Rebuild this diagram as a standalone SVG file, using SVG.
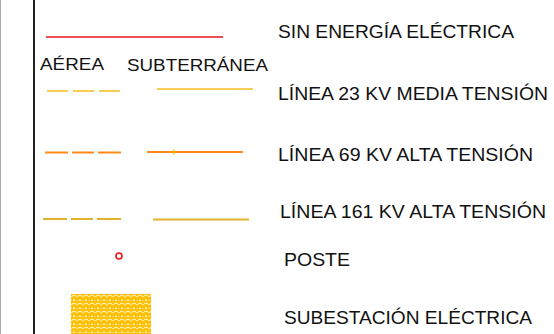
<svg xmlns="http://www.w3.org/2000/svg" width="554" height="334" viewBox="0 0 554 334">
<style>
text{font-family:"Liberation Sans",Arial,sans-serif;fill:#111;}
.lbl{font-size:18px;}
.sub{font-size:16.5px;}
.l23{stroke:#f5bd1f;stroke-width:1.6;fill:none;}
.l69{stroke:#ff8a1a;stroke-width:2;fill:none;}
.l161{stroke:#e2b22a;stroke-width:2;fill:none;}
</style>
<defs>
<pattern id="hatch" width="6" height="8" patternUnits="userSpaceOnUse" x="71" y="294">
<rect width="6" height="8" fill="#ffc000"/>
<path d="M0.5 3.2 A2.5 2 0 0 1 5.5 3.2" stroke="#fff" stroke-width="0.8" fill="none"/>
<circle cx="3" cy="6.2" r="0.9" fill="#fff"/>
<circle cx="0" cy="6.2" r="0.5" fill="#fff"/>
<circle cx="6" cy="6.2" r="0.5" fill="#fff"/>
</pattern>
</defs>
<rect width="554" height="334" fill="#fff"/>
<g id="frame">
<line x1="0.5" y1="0" x2="0.5" y2="334" stroke="#aaa" stroke-width="1"/>
<line x1="34" y1="0" x2="34" y2="334" stroke="#222" stroke-width="2"/>
</g>
<g id="sin-energia">
<line x1="46" y1="37" x2="223" y2="37" stroke="#e8141c" stroke-width="1.6"/>
<text class="lbl" x="278" y="38" textLength="236" lengthAdjust="spacingAndGlyphs">SIN ENERGÍA ELÉCTRICA</text>
</g>
<g id="headers">
<text class="sub" x="40" y="69.5" textLength="64" lengthAdjust="spacingAndGlyphs">AÉREA</text>
<text class="sub" x="127" y="70.5" textLength="141" lengthAdjust="spacingAndGlyphs">SUBTERRÁNEA</text>
</g>
<g id="linea-23">
<path class="l23" d="M47 91H68M73 91H94M99 91H120"/>
<line class="l23" x1="157" y1="89" x2="253" y2="89"/>
<text class="lbl" x="278" y="100" textLength="270" lengthAdjust="spacingAndGlyphs">LÍNEA 23 KV MEDIA TENSIÓN</text>
</g>
<g id="linea-69">
<path class="l69" d="M45 152.5H68M72 152.5H94M98 152.5H121"/>
<line class="l69" x1="147" y1="152" x2="243" y2="152"/>
<line x1="174" y1="149.5" x2="174" y2="154.5" stroke="#ffc000" stroke-width="1.5"/>
<text class="lbl" x="278" y="161" textLength="255" lengthAdjust="spacingAndGlyphs">LÍNEA 69 KV ALTA TENSIÓN</text>
</g>
<g id="linea-161">
<path class="l161" d="M43 219H67M71 219H93M97 219H121"/>
<line class="l161" x1="153" y1="219.5" x2="249" y2="219.5"/>
<text class="lbl" x="280" y="218" textLength="266" lengthAdjust="spacingAndGlyphs">LÍNEA 161 KV ALTA TENSIÓN</text>
</g>
<g id="poste">
<circle cx="119" cy="256" r="3" fill="none" stroke="#ee1111" stroke-width="1.6"/>
<text class="lbl" x="284" y="266" textLength="66" lengthAdjust="spacingAndGlyphs">POSTE</text>
</g>
<g id="subestacion">
<rect x="71" y="294" width="80" height="42" fill="url(#hatch)"/>
<text class="lbl" x="284" y="324" textLength="248" lengthAdjust="spacingAndGlyphs">SUBESTACIÓN ELÉCTRICA</text>
</g>
<g id="connectors"/>
</svg>
